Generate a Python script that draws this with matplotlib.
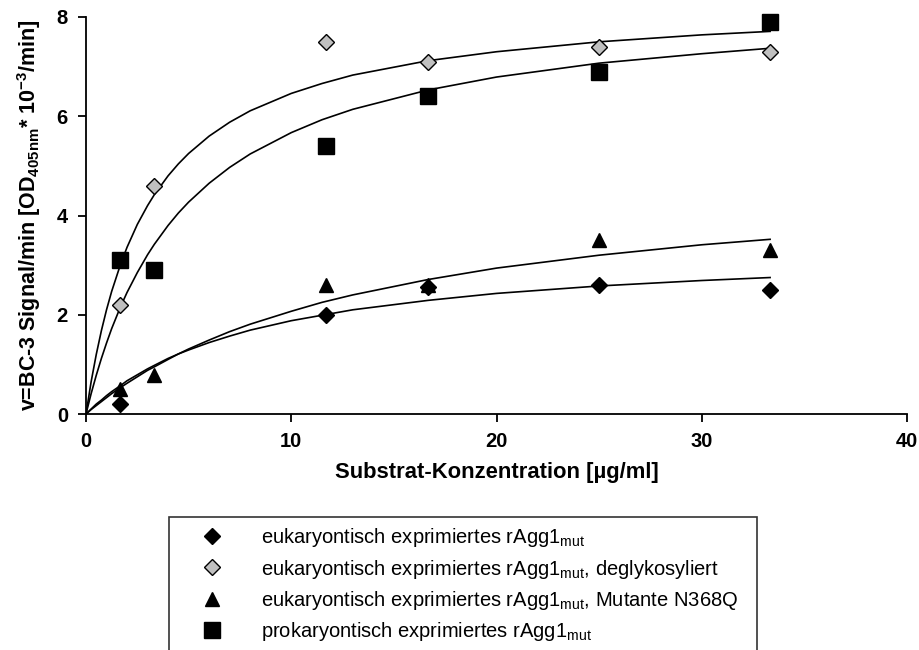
import numpy as np
import matplotlib
matplotlib.use("Agg")
import matplotlib.pyplot as plt
from matplotlib.lines import Line2D
from matplotlib.patches import Rectangle

plt.rcParams.update({
    "font.family": ["Liberation Sans", "DejaVu Sans"],
    "mathtext.default": "regular",
})

# measured points
conc = [1.67, 3.33, 11.67, 16.67, 25, 33.33]
euk = [0.2, np.nan, 2.0, 2.55, 2.6, 2.5]
euk_degly = [2.2, 4.6, 7.5, 7.1, 7.4, 7.3]
euk_n368q = [0.5, 0.78, 2.6, 2.6, 3.5, 3.3]
prok = [3.1, 2.9, 5.4, 6.4, 6.9, 7.9]

# fitted curves
fit_x = [0, 0.25, 0.5, 0.75, 1, 1.25, 1.67, 2, 2.5, 3, 3.33, 4, 4.5, 5, 6, 7, 8,
         10, 11.5, 13, 16.67, 20, 25, 30, 33.33]
fit_euk = [0, 0.10, 0.20, 0.28, 0.37, 0.45, 0.57, 0.67, 0.79, 0.91, 0.98, 1.12, 1.21,
           1.29, 1.44, 1.57, 1.69, 1.88, 1.99, 2.10, 2.29, 2.43, 2.58, 2.69, 2.75]
fit_degly = [0, 0.65, 1.20, 1.68, 2.10, 2.47, 3.00, 3.36, 3.82, 4.20, 4.42, 4.80, 5.04,
             5.25, 5.60, 5.88, 6.11, 6.46, 6.66, 6.83, 7.12, 7.30, 7.50, 7.64, 7.71]
fit_n368q = [0, 0.09, 0.17, 0.25, 0.33, 0.41, 0.53, 0.62, 0.75, 0.88, 0.95, 1.10, 1.21,
             1.31, 1.49, 1.66, 1.81, 2.07, 2.25, 2.40, 2.71, 2.94, 3.20, 3.41, 3.52]
fit_prok = [0, 0.41, 0.78, 1.12, 1.43, 1.72, 2.15, 2.45, 2.85, 3.21, 3.42, 3.80, 4.05,
            4.27, 4.65, 4.97, 5.24, 5.67, 5.93, 6.14, 6.53, 6.79, 7.07, 7.26, 7.37]

labels = [
    r"eukaryontisch exprimiertes rAgg1$_{mut}$",
    r"eukaryontisch exprimiertes rAgg1$_{mut}$, deglykosyliert",
    r"eukaryontisch exprimiertes rAgg1$_{mut}$, Mutante N368Q",
    r"prokaryontisch exprimiertes rAgg1$_{mut}$",
]

W, H = 919, 650
fig = plt.figure(figsize=(W / 100, H / 100), dpi=100)
ax = fig.add_axes([86 / W, (H - 414) / H, 821 / W, 397 / H])

for fy in (fit_euk, fit_degly, fit_n368q, fit_prok):
    ax.plot(fit_x, fy, color="black", lw=1.2, zorder=2)

styles = [
    dict(marker="D", ms=8.5, mfc="black", mec="black"),
    dict(marker="D", ms=8.5, mfc="#c0c0c0", mec="black", mew=1.0),
    dict(marker="^", ms=10.5, mfc="black", mec="black"),
    dict(marker="s", ms=11, mfc="black", mec="black"),
]
for vals, st in zip((euk, euk_degly, euk_n368q, prok), styles):
    ax.plot(conc, vals, ls="none", zorder=3, clip_on=False, **st)

ax.set_xlim(0, 40)
ax.set_ylim(0, 8)
ax.set_xticks([0, 10, 20, 30, 40])
ax.set_yticks([0, 2, 4, 6, 8])
for s in ("top", "right"):
    ax.spines[s].set_visible(False)
for s in ("left", "bottom"):
    ax.spines[s].set_linewidth(1.3)
ax.tick_params(direction="out", length=6, width=1.3, labelsize=14.5, pad=7)
for t in ax.get_xticklabels() + ax.get_yticklabels():
    t.set_fontweight("bold")

ax.set_xlabel("Substrat-Konzentration [µg/ml]", fontsize=15.8, fontweight="bold", labelpad=8)
ax.set_ylabel(r"v=BC-3 Signal/min [OD$_{405nm}$* 10$^{-3}$/min]", fontsize=15.5,
              fontweight="bold", labelpad=10)

# legend box (its lower edge runs off the bottom of the picture)
fig.patches.append(Rectangle((169 / W, -0.05), 588 / W, (H - 517) / H + 0.05,
                             transform=fig.transFigure, fill=False, ec="#333333", lw=1.2))
handles = [Line2D([], [], ls="none", **st) for st in styles]
fig.legend(handles, labels, loc="upper left", bbox_to_anchor=(190 / W, (H - 516) / H),
           frameon=False, fontsize=14.5, handlelength=1.2, handletextpad=1.85,
           labelspacing=0.42, borderpad=0)

fig.savefig("out.png", dpi=100)
